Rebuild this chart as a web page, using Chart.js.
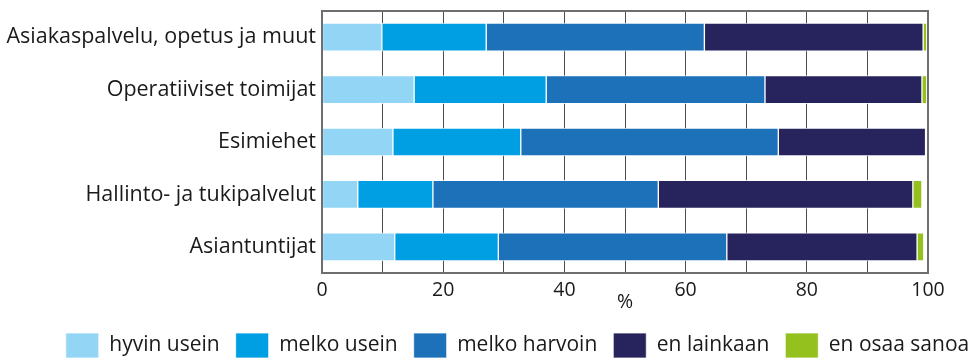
<!DOCTYPE html>
<html>
<head>
<meta charset="utf-8">
<script src="https://cdn.jsdelivr.net/npm/chart.js@4/dist/chart.umd.min.js"></script>
<style>
  html, body { margin: 0; padding: 0; background: #fff; overflow: hidden; }
  #wrap { width: 971px; height: 372px; }
</style>
</head>
<body>
<div id="wrap"><canvas id="chart" width="971" height="372"></canvas></div>
<script>
// categories (top to bottom)
const categories = [
  'Asiakaspalvelu, opetus ja muut',
  'Operatiiviset toimijat',
  'Esimiehet',
  'Hallinto- ja tukipalvelut',
  'Asiantuntijat'
];

// series values, %
const hyvinUsein   = [9.9, 15.2, 11.7, 5.9, 12.0];
const melkoUsein   = [17.2, 21.8, 21.1, 12.4, 17.1];
const melkoHarvoin = [36.0, 36.1, 42.5, 37.2, 37.7];
const enLainkaan   = [36.1, 25.9, 24.3, 42.0, 31.4];
const enOsaaSanoa  = [0.6, 0.8, 0, 1.5, 1.1];

const seriesNames = ['hyvin usein', 'melko usein', 'melko harvoin', 'en lainkaan', 'en osaa sanoa'];
const seriesColors = ['#92d5f5', '#009fe3', '#1d71b8', '#27235c', '#95c11f'];

// x axis: labels every 20, grid every 10
const xTickLabels = [0, 20, 40, 60, 80, 100];

const FONT = "'Open Sans', sans-serif";

const seriesData = [hyvinUsein, melkoUsein, melkoHarvoin, enLainkaan, enOsaaSanoa];

// frame round the plot area
const frame = {
  id: 'frame',
  afterDraw(chart) {
    const a = chart.chartArea;
    const c = chart.ctx;
    c.save();
    c.strokeStyle = '#6e6e6e';
    c.lineWidth = 2;
    c.strokeRect(a.left, a.top, a.right - a.left, a.bottom - a.top);
    c.restore();
  }
};

// legend in the original sits a little right of centre
const legendShift = {
  id: 'legendShift',
  afterLayout(chart) {
    const lg = chart.legend;
    if (!lg) return;
    lg.left += 32;
    lg.right += 32;
  }
};

new Chart(document.getElementById('chart'), {
  type: 'bar',
  data: {
    labels: categories,
    datasets: seriesData.map((d, i) => ({
      label: seriesNames[i],
      data: d,
      backgroundColor: seriesColors[i],
      borderColor: 'rgba(255,255,255,0.75)',
      borderWidth: 1,
      borderSkipped: false,
      barThickness: 28
    }))
  },
  options: {
    indexAxis: 'y',
    responsive: false,
    animation: false,
    layout: { padding: { top: 11, right: 0, bottom: 4, left: 0 } },
    scales: {
      x: {
        stacked: true,
        min: 0,
        max: 100,
        border: { display: false },
        grid: { color: '#4d4d4d', lineWidth: 1, drawTicks: false },
        ticks: {
          stepSize: 10,
          autoSkip: false,
          maxRotation: 0,
          padding: 6,
          color: '#1a1a1a',
          font: { family: FONT, size: 19.5 },
          callback: v => xTickLabels.includes(v) ? String(v) : ''
        },
        title: {
          display: true,
          text: '%',
          color: '#1a1a1a',
          font: { family: FONT, size: 19.5 },
          padding: { top: 0, bottom: 3 }
        },
        afterFit(scale) {
          scale.height = 44;
          scale.paddingRight = 43;
        }
      },
      y: {
        stacked: true,
        border: { display: false },
        grid: { display: false, drawTicks: false },
        ticks: {
          padding: 6,
          color: '#1a1a1a',
          font: { family: FONT, size: 21.5 }
        },
        afterFit(scale) {
          scale.width = 322;
          scale.paddingTop = 0;
          scale.paddingBottom = 0;
        }
      }
    },
    plugins: {
      legend: {
        position: 'bottom',
        labels: {
          boxWidth: 33,
          boxHeight: 25,
          padding: 16,
          color: '#1a1a1a',
          font: { family: FONT, size: 21 }
        }
      },
      tooltip: { enabled: false }
    }
  },
  plugins: [frame, legendShift]
});
</script>
</body>
</html>
